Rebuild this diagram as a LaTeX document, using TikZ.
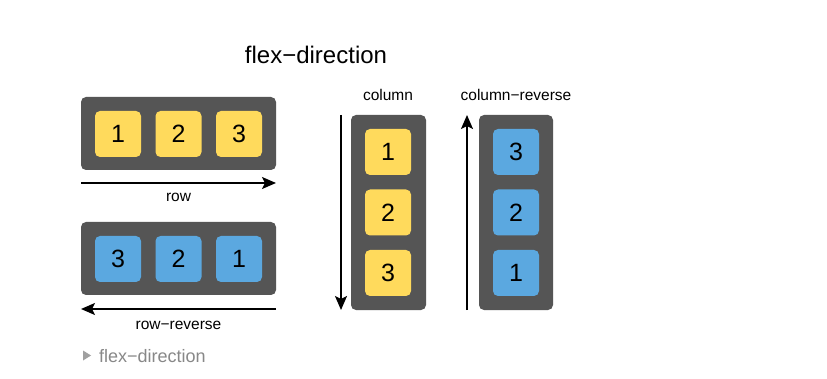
\documentclass[tikz,border=0pt]{standalone}
\usepackage{fontspec}
\setmainfont{Liberation Sans}
\usetikzlibrary{arrows.meta}
\definecolor{cont}{HTML}{555555}
\definecolor{ybox}{HTML}{FFDA5C}
\definecolor{bbox}{HTML}{5BA8E0}
\definecolor{note}{HTML}{888888}
\begin{document}
\begin{tikzpicture}[x=1pt,y=-1pt,
  container/.style={fill=cont,rounded corners=5pt,draw=none},
  itembox/.style={minimum width=46pt,minimum height=46pt,rounded corners=5pt,inner sep=0pt,font=\fontsize{25}{25}\selectfont},
  ybx/.style={itembox,fill=ybox},
  bbx/.style={itembox,fill=bbox},
  dirarrow/.style={line width=1.8pt,-{Stealth[length=14pt,width=12pt,inset=3pt]}},
  lab/.style={font=\fontsize{15.5}{18}\selectfont,inner sep=0pt}
]
\useasboundingbox (0,0) rectangle (827,379);
\fill[white] (0,0) rectangle (827,379);
% title
\node[font=\fontsize{24}{28}\selectfont,inner sep=0pt] (title) at (316,55) {flex−direction};
% row
\fill[container] (81,97) rectangle (276,170);
\node[ybx] (r1) at (118,134) {1};
\node[ybx] (r2) at (178.5,134) {2};
\node[ybx] (r3) at (239,134) {3};
\coordinate (ra) at (81,183);
\coordinate (rb) at (276,183);
\draw[dirarrow] (ra) -- (rb);
\node[lab] (rowlab) at (178.5,197) {row};
% row-reverse
\fill[container] (81,222) rectangle (276,295);
\node[bbx] (rr3) at (118,259) {3};
\node[bbx] (rr2) at (178.5,259) {2};
\node[bbx] (rr1) at (239,259) {1};
\coordinate (rra) at (276,309);
\coordinate (rrb) at (81,309);
\draw[dirarrow] (rra) -- (rrb);
\node[lab] (rrlab) at (178.5,325) {row−reverse};
% column
\fill[container] (351,115) rectangle (426,310);
\node[ybx] (c1) at (388,152) {1};
\node[ybx] (c2) at (388,212.5) {2};
\node[ybx] (c3) at (388,273) {3};
\coordinate (ca) at (341,115);
\coordinate (cb) at (341,310);
\draw[dirarrow] (ca) -- (cb);
\node[lab] (clab) at (388,95) {column};
% column-reverse
\fill[container] (479,115) rectangle (553,310);
\node[bbx] (cr3) at (516,152) {3};
\node[bbx] (cr2) at (516,212.5) {2};
\node[bbx] (cr1) at (516,273) {1};
\coordinate (cra) at (467,310);
\coordinate (crb) at (467,115);
\draw[dirarrow] (cra) -- (crb);
\node[lab] (crlab) at (516,95) {column−reverse};
% footer
\fill[note!80] (83,350.5) -- (91,355.5) -- (83,360.5) -- cycle;
\node[font=\fontsize{18}{20}\selectfont,text=note,anchor=west,inner sep=0pt] (foot) at (99,356) {flex−direction};
\end{tikzpicture}
\end{document}
